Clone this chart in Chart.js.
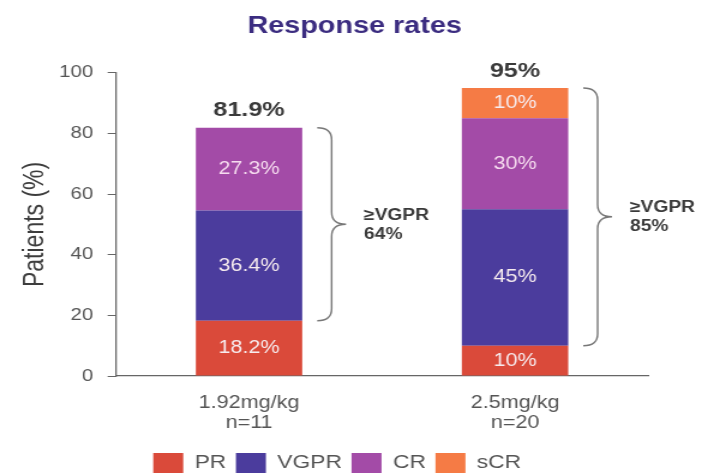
<!DOCTYPE html>
<html>
<head>
<meta charset="utf-8">
<script src="https://cdn.jsdelivr.net/npm/chart.js@4/dist/chart.umd.min.js"></script>
<style>
  html, body { margin: 0; padding: 0; background: #ffffff; overflow: hidden; }
  #wrap { width: 709px; height: 475px; overflow: hidden; }
  /* the slide artwork is drawn on a narrower canvas and widened horizontally */
  #chart { width: 591px; height: 475px; transform: scaleX(1.2); transform-origin: 0 0; display: block; }
</style>
</head>
<body>
<div id="wrap"><canvas id="chart" width="591" height="475"></canvas></div>
<script>
// Dose groups and stacked response categories (% of patients)
const categories = [['1.92mg/kg', 'n=11'], ['2.5mg/kg', 'n=20']];
const seriesNames = ['PR', 'VGPR', 'CR', 'sCR'];
const prValues = [18.2, 10];
const vgprValues = [36.4, 45];
const crValues = [27.3, 30];
const scrValues = [0, 10];
const totalLabels = ['81.9%', '95%'];
const vgprOrBetterLabels = ['64%', '85%'];
const yTicks = [0, 20, 40, 60, 80, 100];

const colors = ['#da4a3a', '#4b3c9d', '#a34ba7', '#f57b45'];
const FONT = "'Liberation Sans', Arial, sans-serif";

const seriesValues = [prValues, vgprValues, crValues, scrValues];

const fmtPct = v => (Number.isInteger(v) ? v.toString() : v.toFixed(1)) + '%';

// Writes each segment's value, the total on top, and a brace for ≥VGPR
const annotations = {
  id: 'annotations',
  afterLayout(chart) {
    // nudge the legend row to sit under the plot, a little lower
    const lg = chart.legend;
    lg.left -= 14.5; lg.right -= 14.5;
    lg.top += 8; lg.bottom += 8;
  },
  afterDatasetsDraw(chart) {
    const ctx = chart.ctx;
    const y = chart.scales.y;
    ctx.save();
    ctx.textAlign = 'center';
    ctx.textBaseline = 'middle';

    // segment values
    chart.data.datasets.forEach((ds, di) => {
      const meta = chart.getDatasetMeta(di);
      meta.data.forEach((bar, i) => {
        const v = ds.data[i];
        if (!v) return;
        ctx.font = '18px ' + FONT;
        ctx.fillStyle = di === 2 ? '#f6dcef' : '#f7ecef';
        ctx.fillText(fmtPct(v), bar.x, (bar.y + bar.base) / 2);
      });
    });

    categories.forEach((c, i) => {
      const total = seriesValues.reduce((s, arr) => s + arr[i], 0);
      const bar = chart.getDatasetMeta(0).data[i];
      const half = bar.width / 2;
      const topY = y.getPixelForValue(total);

      // total above the stack
      ctx.font = 'bold 21px ' + FONT;
      ctx.fillStyle = '#3a3a3a';
      ctx.fillText(totalLabels[i], bar.x, topY - 17);

      // curly brace from top of PR to top of stack
      const y1 = topY;
      const y2 = y.getPixelForValue(prValues[i]);
      const ym = (y1 + y2) / 2;
      const x0 = bar.x + half + 12.5;
      const x1 = x0 + 12;
      const x2 = x1 + 12;
      const r = 12;
      ctx.beginPath();
      ctx.moveTo(x0, y1);
      ctx.quadraticCurveTo(x1, y1, x1, y1 + r);
      ctx.lineTo(x1, ym - r);
      ctx.quadraticCurveTo(x1, ym, x2, ym);
      ctx.quadraticCurveTo(x1, ym, x1, ym + r);
      ctx.lineTo(x1, y2 - r);
      ctx.quadraticCurveTo(x1, y2, x0, y2);
      ctx.strokeStyle = '#777777';
      ctx.lineWidth = 1.4;
      ctx.stroke();

      // ≥VGPR label
      ctx.textAlign = 'left';
      ctx.font = 'bold 16px ' + FONT;
      ctx.fillStyle = '#3a3a3a';
      ctx.fillText('≥VGPR', x2 + 15, ym - 9);
      ctx.fillText(vgprOrBetterLabels[i], x2 + 15, ym + 10);
      ctx.textAlign = 'center';
    });
    ctx.restore();
  }
};

new Chart(document.getElementById('chart'), {
  type: 'bar',
  data: {
    labels: categories,
    datasets: seriesNames.map((name, i) => ({
      label: name,
      data: seriesValues[i],
      backgroundColor: colors[i],
      borderWidth: 0,
      barPercentage: 0.8,
      categoryPercentage: 0.5
    }))
  },
  options: {
    responsive: false,
    animation: false,
    devicePixelRatio: 1,
    layout: { padding: { top: 0, left: 0, right: 0, bottom: 0 } },
    plugins: {
      title: {
        display: true,
        text: 'Response rates',
        color: '#3b2c80',
        font: { family: FONT, size: 24, weight: 'bold' },
        padding: { top: 12, bottom: 32 }
      },
      legend: {
        position: 'bottom',
        labels: {
          color: '#555555',
          font: { family: FONT, size: 19 },
          boxWidth: 25,
          boxHeight: 20,
          padding: 8
        }
      },
      tooltip: { enabled: false }
    },
    scales: {
      x: {
        stacked: true,
        grid: { display: false },
        border: { display: true, color: '#666666', width: 1.3 },
        ticks: {
          color: '#555555',
          font: { family: FONT, size: 18, lineHeight: 1.1 },
          padding: 9
        },
        afterFit(scale) { scale.height = 61; }
      },
      y: {
        stacked: true,
        min: 0,
        max: 100,
        afterBuildTicks(scale) { scale.ticks = yTicks.map(v => ({ value: v })); },
        grid: { drawOnChartArea: false, drawTicks: true, tickLength: 7, color: '#666666' },
        border: { display: true, color: '#666666', width: 1.3 },
        ticks: {
          color: '#555555',
          font: { family: FONT, size: 17 },
          padding: 12
        },
        title: {
          display: true,
          text: 'Patients (%)',
          color: '#3d3d3d',
          font: { family: FONT, size: 23 },
          padding: { top: 16, bottom: 0 }
        },
        afterFit(scale) { scale.width = 96.7; }
      },
      // empty right-hand band so the plot ends where the braces need room
      yRight: {
        position: 'right',
        display: true,
        min: 0,
        max: 100,
        grid: { display: false },
        border: { display: false },
        ticks: { display: false },
        afterFit(scale) { scale.width = 51; }
      }
    }
  },
  plugins: [annotations]
});
</script>
</body>
</html>
